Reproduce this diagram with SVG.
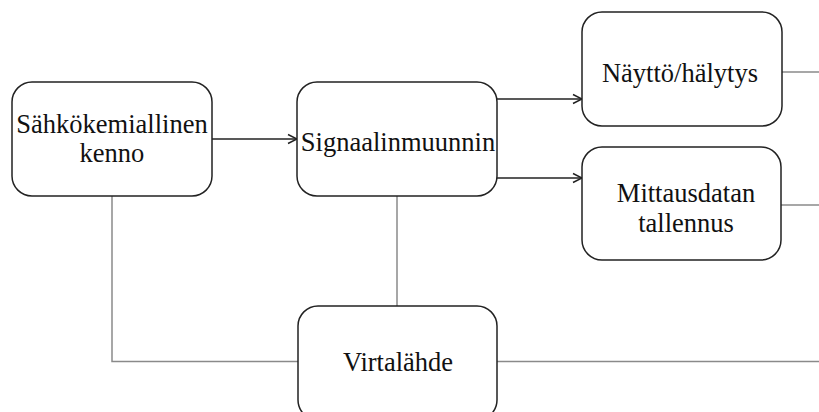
<svg xmlns="http://www.w3.org/2000/svg" width="819" height="412" viewBox="0 0 819 412">
<defs>
<marker id="arr" markerWidth="12" markerHeight="12" refX="10" refY="6" orient="auto" markerUnits="userSpaceOnUse">
<path d="M1,1.5 L10,6 L1,10.5" fill="none" stroke="#222" stroke-width="1.4"/>
</marker>
<style>
.box{fill:#fff;stroke:#222;stroke-width:1.5}
.t{font-family:"Liberation Serif","Times New Roman",serif;font-size:26.5px;fill:#111;text-anchor:middle}
.a{fill:none;stroke:#222;stroke-width:1.4}
.g{fill:none;stroke:#8a8a8a;stroke-width:1.5}
</style>
</defs>
<rect width="819" height="412" fill="#fff"/>
<g id="connectors">
<line class="a" x1="212" y1="139" x2="297" y2="139" marker-end="url(#arr)"/>
<line class="a" x1="497" y1="99" x2="582" y2="99" marker-end="url(#arr)"/>
<line class="a" x1="497" y1="178" x2="582" y2="178" marker-end="url(#arr)"/>
<polyline class="g" points="112,196 112,361.5 298,361.5"/>
<line class="g" x1="397" y1="196" x2="397" y2="306"/>
<line class="g" x1="782" y1="72" x2="819" y2="72"/>
<line class="g" x1="781" y1="205" x2="819" y2="205"/>
<line class="g" x1="497" y1="361.5" x2="819" y2="361.5"/>
</g>
<g id="kenno">
<rect class="box" x="12" y="82" width="200" height="114" rx="20"/>
<text class="t" x="112" y="133">Sähkökemiallinen</text>
<text class="t" x="112" y="162">kenno</text>
</g>
<g id="muunnin">
<rect class="box" x="297" y="82" width="200" height="114" rx="20"/>
<text class="t" x="398" y="151">Signaalinmuunnin</text>
</g>
<g id="naytto">
<rect class="box" x="582" y="12" width="200" height="114" rx="20"/>
<text class="t" x="680" y="82">Näyttö/hälytys</text>
</g>
<g id="tallennus">
<rect class="box" x="582" y="147" width="199" height="113" rx="20"/>
<text class="t" x="686" y="202">Mittausdatan</text>
<text class="t" x="686" y="232">tallennus</text>
</g>
<g id="virtalahde">
<rect class="box" x="298" y="306" width="199" height="114" rx="20"/>
<text class="t" x="398" y="371">Virtalähde</text>
</g>
</svg>
